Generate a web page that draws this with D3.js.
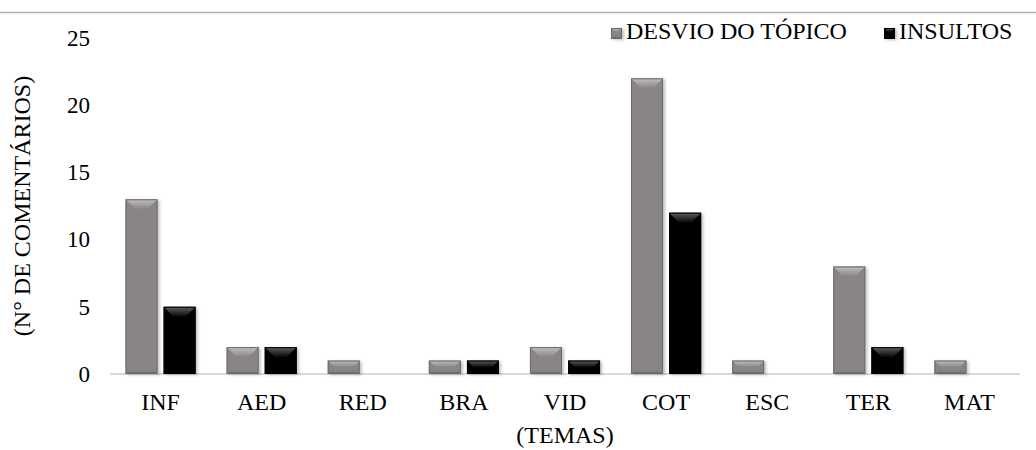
<!DOCTYPE html>
<html><head><meta charset="utf-8">
<script src="https://cdn.jsdelivr.net/npm/d3@7/dist/d3.min.js"></script>
<style>body{margin:0;background:#fff}svg{display:block}text{font-family:"Liberation Serif","Times New Roman",serif;fill:#000}</style>
</head><body>
<svg id="c" width="1036" height="450"></svg>
<script>
const categories = ["INF","AED","RED","BRA","VID","COT","ESC","TER","MAT"];
const seriesNames = ["DESVIO DO TÓPICO","INSULTOS"];
const desvio = [13,2,1,1,2,22,1,8,1];
const insultos = [5,2,0,1,1,12,0,2,0];
const yTicks = [0,5,10,15,20,25];

const svg = d3.select("#c");
const W = 1036, H = 450;
const m = {l:110, r:16, t:38, b:76};
const FS = 24;
const x = d3.scaleBand().domain(categories).range([m.l, W - m.r]).paddingInner(0).paddingOuter(0);
const x1 = d3.scaleBand().domain(seriesNames).range([15.5, x.bandwidth()-15.5]).paddingInner(0.16).paddingOuter(0);
const y = d3.scaleLinear().domain([0,25]).range([H - m.b, m.t]);

const styles = [
  {base:"#8a8585", light:"#c4bfbf", dark:"#5e5959", edge:"#6e6a6a"},
  {base:"#060606", light:"#5f5f5f", dark:"#000000", edge:"#000"}
];
const defs = svg.append("defs");
styles.forEach((s,i)=>{
  const g1 = defs.append("linearGradient").attr("id","top"+i).attr("x1",0).attr("y1",0).attr("x2",0).attr("y2",1);
  g1.append("stop").attr("offset","0%").attr("stop-color",s.light);
  g1.append("stop").attr("offset","100%").attr("stop-color",s.base);
  const g2 = defs.append("linearGradient").attr("id","bot"+i).attr("x1",0).attr("y1",0).attr("x2",0).attr("y2",1);
  g2.append("stop").attr("offset","0%").attr("stop-color",s.base);
  g2.append("stop").attr("offset","100%").attr("stop-color",s.dark);
});
const f = defs.append("filter").attr("id","sh").attr("x","-20%").attr("y","-20%").attr("width","150%").attr("height","150%");
f.append("feDropShadow").attr("dx",2).attr("dy",1).attr("stdDeviation",1.5).attr("flood-color","#000").attr("flood-opacity",0.25);

// top frame line
svg.append("line").attr("x1",0).attr("x2",W).attr("y1",12.5).attr("y2",12.5).attr("stroke","#b4b4b4").attr("stroke-width",1.5);

function bevelBar(g, bx, by, bw, bh, si, maxB){
  const s = styles[si];
  if (bh <= 0) return;
  const grp = g.append("g");
  grp.append("rect").attr("x",bx).attr("y",by).attr("width",bw).attr("height",bh).attr("fill",s.base).attr("filter","url(#sh)");
  const b = Math.min(maxB || 10, bh/2);
  grp.append("polygon").attr("points",[[bx,by],[bx+bw,by],[bx+bw-b,by+b],[bx+b,by+b]].map(p=>p.join(",")).join(" ")).attr("fill","url(#top"+si+")");
  const bb = Math.min(3, bh/3);
  grp.append("polygon").attr("points",[[bx,by+bh],[bx+bw,by+bh],[bx+bw-bb,by+bh-bb],[bx+bb,by+bh-bb]].map(p=>p.join(",")).join(" ")).attr("fill","url(#bot"+si+")");
  grp.append("rect").attr("x",bx+0.5).attr("y",by+0.5).attr("width",bw-1).attr("height",bh-1).attr("fill","none").attr("stroke",s.edge).attr("stroke-width",1);
}

// axis baseline
svg.append("line").attr("x1",m.l).attr("x2",W - m.r).attr("y1",y(0)).attr("y2",y(0)).attr("stroke","#d9d9d9").attr("stroke-width",2);

const data = [desvio, insultos];
const bars = svg.append("g");
categories.forEach((c,ci)=>{
  seriesNames.forEach((sn,si)=>{
    const v = data[si][ci];
    bevelBar(bars, x(c)+x1(sn), y(v), x1.bandwidth(), y(0)-y(v), si);
  });
});

// y axis
const yAxis = d3.axisLeft(y).tickValues(yTicks).tickSize(0).tickPadding(0);
const ya = svg.append("g").attr("transform",`translate(90,0)`).call(yAxis);
ya.select(".domain").remove();
ya.selectAll("text").attr("font-size",23).attr("font-family","Liberation Serif").attr("fill","#000");

// x axis
const xAxis = d3.axisBottom(x).tickSize(0).tickPadding(19);
const xa = svg.append("g").attr("transform",`translate(0,${y(0)})`).call(xAxis);
xa.select(".domain").remove();
xa.selectAll("text").attr("font-size",FS).attr("font-family","Liberation Serif").attr("fill","#000");

// axis titles
svg.append("text").attr("x",(m.l + W - m.r)/2).attr("y",443).attr("text-anchor","middle").attr("font-size",FS).text("(TEMAS)");
svg.append("text").attr("transform",`translate(30,${(y(0)+y(25))/2}) rotate(-90)`).attr("text-anchor","middle").attr("font-size",FS).text("(N° DE COMENTÁRIOS)");

// legend
const legX = [611, 884];
seriesNames.forEach((sn,si)=>{
  const lg = svg.append("g");
  bevelBar(lg, legX[si], 28, 11, 11, si, 4);
  lg.append("text").attr("x",legX[si]+15).attr("y",39).attr("font-size",FS).text(sn);
});
</script>
</body></html>
